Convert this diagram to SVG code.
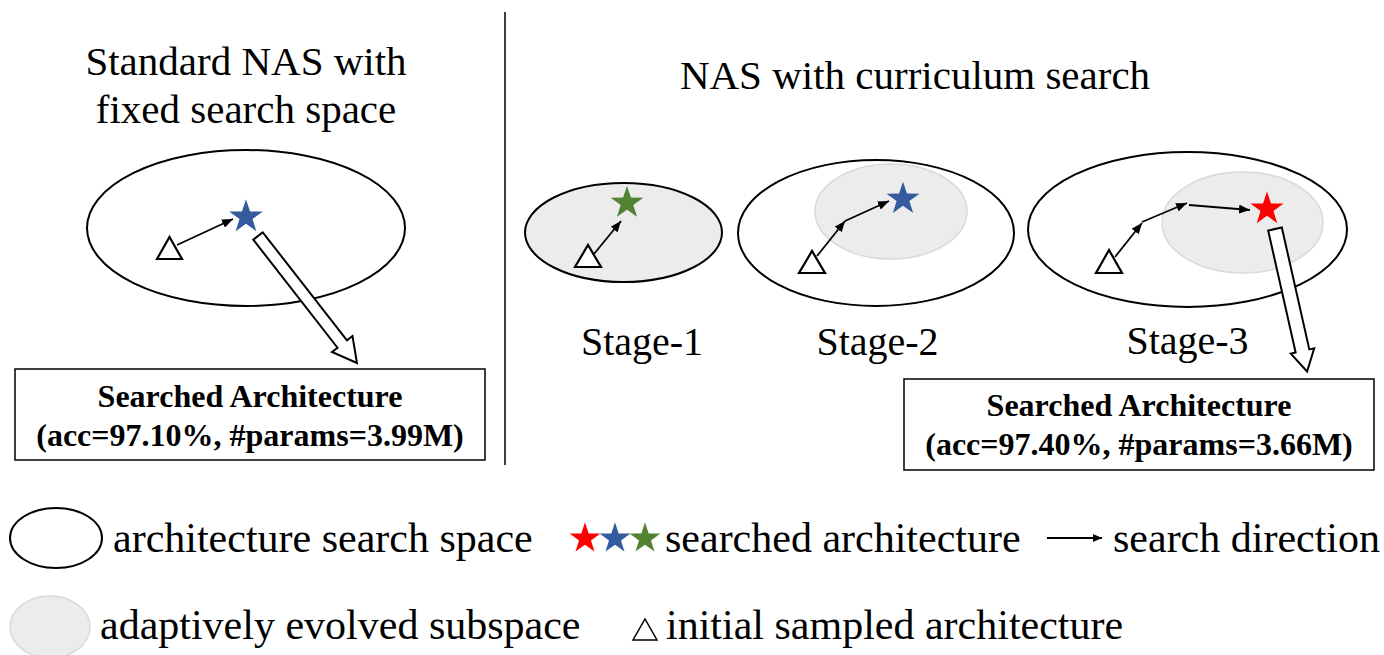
<svg xmlns="http://www.w3.org/2000/svg" width="1384" height="655" viewBox="0 0 1384 655">
  <style>
    .title { font-family: "Liberation Serif", "Times New Roman", serif; font-size: 41px; fill: #000; }
    .stage { font-family: "Liberation Serif", "Times New Roman", serif; font-size: 40px; fill: #000; text-anchor: middle; }
    .legend { font-family: "Liberation Serif", "Times New Roman", serif; font-size: 42px; fill: #000; }
    .box-text { font-family: "Liberation Serif", "Times New Roman", serif; font-size: 32px; font-weight: bold; fill: #000; text-anchor: middle; }
    .space { fill: #fff; stroke: #000; stroke-width: 2; }
    .space-filled { fill: #ececec; stroke: #000; stroke-width: 2; }
    .subspace { fill: #ececec; stroke: #d9d9d9; stroke-width: 1.5; }
    .init { fill: #fff; stroke: #000; stroke-width: 2.2; stroke-linejoin: miter; }
    .step { fill: none; stroke: #000; stroke-width: 1.8; marker-end: url(#head); }
    .result { fill: #fff; stroke: #000; stroke-width: 2; stroke-linejoin: miter; }
    .box { fill: #fff; stroke: #000; stroke-width: 1.5; }
  </style>
  <defs>
    <marker id="head" markerUnits="userSpaceOnUse" markerWidth="11" markerHeight="9" refX="11" refY="4.5" orient="auto">
      <path d="M0,0 L11,4.5 L0,9 Z" fill="#000"/>
    </marker>
    <marker id="head-small" markerUnits="userSpaceOnUse" markerWidth="9" markerHeight="8" refX="9" refY="4" orient="auto">
      <path d="M0,0 L9,4 L0,8 Z" fill="#000"/>
    </marker>
    <!-- five-point star, outer radius 18 -->
    <path id="star" d="M0,-18 L4.114,-5.663 L17.119,-5.562 L6.657,2.163 L10.580,14.562 L0,7 L-10.580,14.562 L-6.657,2.163 L-17.119,-5.562 L-4.114,-5.663 Z"/>
  </defs>

  <!-- divider between the two panels -->
  <line x1="505" y1="12" x2="505" y2="465" stroke="#000" stroke-width="1.5"/>

  <!-- left panel: standard NAS -->
  <g id="title-standard">
    <text class="title" x="246" y="75" text-anchor="middle">Standard NAS with</text>
    <text class="title" x="246" y="123" text-anchor="middle">fixed search space</text>
  </g>
  <g id="space-fixed">
    <ellipse class="space" cx="246" cy="228" rx="159" ry="78"/>
  </g>
  <g id="init-fixed">
    <polygon class="init" points="157,259 182,259 169.5,237"/>
  </g>
  <g id="star-fixed">
    <use href="#star" transform="translate(246,217) scale(0.98)" fill="#345b9e"/>
  </g>
  <g id="result-fixed">
    <rect class="box" x="15" y="369" width="470" height="91"/>
    <text class="box-text" x="250" y="407">Searched Architecture</text>
    <text class="box-text" x="250" y="446">(acc=97.10%, #params=3.99M)</text>
  </g>

  <!-- right panel: curriculum search -->
  <g id="title-curriculum">
    <text class="title" x="915" y="89" text-anchor="middle">NAS with curriculum search</text>
  </g>

  <g id="stage-1">
    <ellipse class="space-filled" cx="623.5" cy="232.5" rx="98.5" ry="49.5"/>
    <polygon class="init" points="575,267 601,267 588,245"/>
    <use href="#star" transform="translate(627,203) scale(0.95)" fill="#548235"/>
    <text class="stage" x="642" y="355">Stage-1</text>
  </g>

  <g id="stage-2">
    <ellipse class="space" cx="876" cy="233" rx="138" ry="73"/>
    <ellipse class="subspace" cx="891" cy="211.5" rx="76" ry="47.5"/>
    <polygon class="init" points="799,273 825,273 812,251"/>
    <use href="#star" transform="translate(903,199) scale(0.96)" fill="#345b9e"/>
    <text class="stage" x="877.5" y="355">Stage-2</text>
  </g>

  <g id="stage-3">
    <ellipse class="space" cx="1187.5" cy="229.5" rx="159.5" ry="77.5"/>
    <ellipse class="subspace" cx="1242.5" cy="222.5" rx="80.5" ry="50.5"/>
    <polygon class="init" points="1096,273 1122,273 1109,250"/>
    <use href="#star" transform="translate(1267,209) scale(0.97)" fill="#ff0000"/>
    <text class="stage" x="1187.5" y="354">Stage-3</text>
  </g>

  <g id="result-curriculum">
    <rect class="box" x="904" y="379" width="470" height="91"/>
    <text class="box-text" x="1139" y="416">Searched Architecture</text>
    <text class="box-text" x="1139" y="455">(acc=97.40%, #params=3.66M)</text>
  </g>

  <!-- search directions and result arrows -->
  <g id="connectors">
    <line class="step" x1="177" y1="245" x2="233" y2="219"/>
    <line class="step" x1="594" y1="254" x2="621" y2="221"/>
    <line class="step" x1="817" y1="256" x2="845" y2="221"/>
    <line class="step" x1="845" y1="221" x2="889" y2="201"/>
    <line class="step" x1="1115" y1="257" x2="1142" y2="223"/>
    <line class="step" x1="1142" y1="222" x2="1187" y2="203"/>
    <line class="step" x1="1189" y1="205" x2="1250" y2="210"/>
    <!-- hollow block arrows to the result boxes -->
    <polygon class="result" transform="translate(258,236) rotate(52.06)" points="0,-6 137,-6 137,-13 161,0 137,13 137,6 0,6"/>
    <polygon class="result" transform="translate(1275,229) rotate(77.3)" points="0,-7 125,-7 125,-12 146,0 125,12 125,7 0,7"/>
  </g>

  <!-- legend -->
  <g id="legend-space">
    <ellipse class="space" cx="56" cy="538" rx="46" ry="30"/>
    <text class="legend" x="113" y="552">architecture search space</text>
  </g>
  <g id="legend-star">
    <use href="#star" transform="translate(585,538.5) scale(0.9)" fill="#ff0000"/>
    <use href="#star" transform="translate(615,538.5) scale(0.9)" fill="#345b9e"/>
    <use href="#star" transform="translate(645,538.5) scale(0.9)" fill="#548235"/>
    <text class="legend" x="665" y="552">searched architecture</text>
  </g>
  <g id="legend-direction">
    <line x1="1047" y1="538" x2="1102" y2="538" stroke="#000" stroke-width="1.8" marker-end="url(#head-small)"/>
    <text class="legend" x="1113" y="552">search direction</text>
  </g>
  <g id="legend-subspace">
    <ellipse class="subspace" cx="50" cy="627" rx="40" ry="31"/>
    <text class="legend" x="100" y="639">adaptively evolved subspace</text>
  </g>
  <g id="legend-init">
    <polygon fill="#fff" stroke="#000" stroke-width="1.5" points="633,640 657,640 645,619"/>
    <text class="legend" x="666" y="639">initial sampled architecture</text>
  </g>
</svg>
